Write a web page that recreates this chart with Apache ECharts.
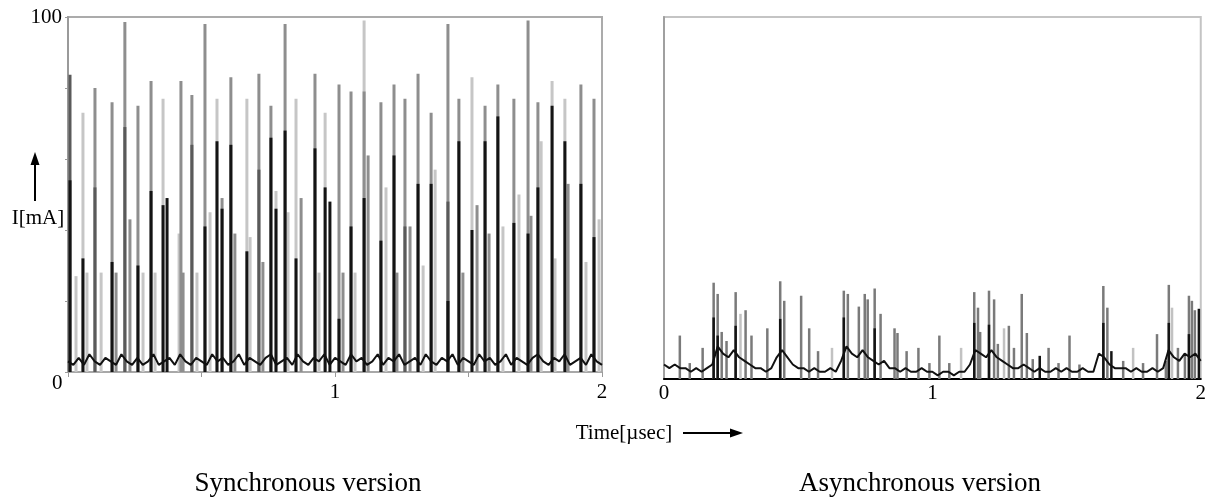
<!DOCTYPE html>
<html><head><meta charset="utf-8">
<script src="https://cdn.jsdelivr.net/npm/echarts@6/dist/echarts.min.js"></script>
<style>html,body{margin:0;padding:0;background:#fff}#c{width:1209px;height:500px}</style>
</head><body><div id="c"></div>
<script>
// ---------- Synchronous version (left) ----------
const syncDarkT = [0.0075, 0.101, 0.213, 0.464, 0.715, 1.262, 1.423];
const syncDarkV = [83.7, 52, 69, 64, 57, 41, 48];

const syncGrayT = [0.101, 0.165, 0.213, 0.262, 0.311, 0.423, 0.464, 0.513, 0.610, 0.715, 0.760, 0.813, 0.925,
  1.015, 1.060, 1.109, 1.172, 1.221, 1.262, 1.311, 1.360, 1.423, 1.464, 1.562, 1.610, 1.670, 1.723, 1.760, 1.921, 1.970,
  0.180, 0.232, 0.431, 0.577, 0.625, 0.730, 0.873, 1.030, 1.124, 1.232, 1.281, 1.479, 1.532, 1.577, 1.734, 1.873];
const syncGrayV = [80, 76, 98.6, 75, 82, 82, 78, 98, 83, 84, 75, 98, 84,
  81, 79, 79, 76, 81, 77, 84, 73, 98, 77, 75, 81, 77, 99, 76, 81, 77,
  28, 43, 28, 49, 39, 31, 49, 28, 61, 28, 41, 28, 47, 39, 44, 53];

const syncLightT = [0.056, 0.356, 0.558, 0.670, 0.854, 0.963, 1.109, 1.513, 1.813, 1.861,
  0.030, 0.071, 0.124, 0.281, 0.326, 0.416, 0.483, 0.532, 0.682, 0.779, 0.824, 0.940, 1.075, 1.191, 1.330, 1.375,
  1.629, 1.689, 1.772, 1.824, 1.940, 1.989];
const syncLightV = [73, 77, 77, 77, 77, 73, 99, 83, 82, 77,
  27, 28, 28, 28, 28, 39, 28, 45, 38, 51, 45, 28, 28, 52, 30, 57,
  41, 50, 65, 32, 31, 43];

const syncBlackT = [0.0075, 0.056, 0.165, 0.262, 0.311, 0.356, 0.371, 0.513, 0.558, 0.577, 0.610, 0.670, 0.760, 0.779,
  0.813, 0.854, 0.925, 0.963, 0.981, 1.015, 1.060, 1.109, 1.172, 1.221, 1.311, 1.360, 1.423, 1.464, 1.513, 1.562,
  1.610, 1.670, 1.723, 1.760, 1.813, 1.861, 1.921, 1.970];
const syncBlackV = [54, 32, 31, 30, 51, 47, 49, 41, 65, 46, 64, 34, 66, 46,
  68, 32, 63, 52, 48, 15, 41, 49, 37, 61, 53, 53, 20, 65, 40, 65,
  72, 42, 39, 52, 75, 65, 53, 38];

const noiseStep = 0.02;
const syncNoise = [3,2,4,2,5,3,2,4,3,2, 5,3,2,4,2,3,5,2,3,4, 2,5,3,2,4,3,2,5,3,4, 2,3,5,2,4,3,2,4,5,2,
  3,4,2,5,3,2,4,3,5,2, 4,3,2,5,3,4,2,3,5,2, 4,3,5,2,3,4,2,5,3,2, 4,3,5,2,4,3,2,5,3,4,
  2,3,5,2,4,3,2,4,5,3, 2,4,3,5,2,3,4,2,5,3,2];

// ---------- Asynchronous version (right) ----------
const asyncGrayT = [0.059, 0.096, 0.144, 0.185, 0.200, 0.215, 0.233, 0.267, 0.304, 0.326, 0.385, 0.433, 0.448, 0.511,
  0.541, 0.574, 0.670, 0.685, 0.726, 0.748, 0.759, 0.785, 0.807, 0.859, 0.870, 0.904, 0.948, 0.989, 1.026, 1.063,
  1.156, 1.170, 1.178, 1.211, 1.230, 1.244, 1.285, 1.304, 1.333, 1.352, 1.374, 1.433, 1.470, 1.511, 1.548,
  1.637, 1.652, 1.711, 1.785, 1.837, 1.870, 1.881, 1.915, 1.941, 1.956, 1.967, 1.978];
const asyncGrayV = [12, 4.4, 8.6, 26.6, 23.5, 13, 10.5, 24, 19, 12, 14, 27, 21.6, 23,
  14, 7.7, 24.4, 23.5, 20, 23.5, 22, 25, 18, 14, 12.7, 7.7, 8.6, 4.4, 12, 4.4,
  24, 19.7, 13, 24.4, 22, 9.7, 14.7, 8.6, 23.5, 12.7, 5.5, 8.6, 4.4, 12, 4,
  25.7, 19.7, 5, 4.4, 12.4, 5, 26, 8.6, 6.4, 23, 21.6, 19];

const asyncLightT = [0.285, 0.626, 1.107, 1.267, 1.748, 1.893];
const asyncLightV = [18, 8.6, 8.6, 14, 8.6, 19.7];

const asyncBlackT = [0.185, 0.200, 0.267, 0.433, 0.670, 0.785, 1.156, 1.211, 1.400, 1.637, 1.667, 1.881, 1.956, 1.993];
const asyncBlackV = [17, 12, 14.7, 16.6, 17, 14, 15.5, 15, 6.4, 15.5, 7.7, 15.5, 12.4, 19.4];

const asyncNoise = [4,3,4,3,3,2,3,2,3, 4, 9,7,6,8,6,5,4, 3,3,2,3, 6,8,6,4,3, 3,2,3,2,2,3,2,
  5,9,7,6,8,6,5,4,5,3, 3,2,3,2,2,3,2,2,1,2,2,1,2,2, 4,8,7,6,8,6,5,4,3,
  3,4,3,2,3,2,2,3,2,3,2,2,3,2,2, 7,6,4,3,3, 3,2,3,2,2,3,2,3, 8,6,5,7,6,7,5];

const leftTickLabels = ['', '1', '2'];
const rightTickLabels = ['0', '1', '2'];

function pairs(T, V) { return T.map((t, i) => [t, V[i]]); }
function noisePairs(N) { return N.map((v, i) => [+(i * noiseStep).toFixed(3), v]); }

const serif = 'Liberation Serif';
const chart = echarts.init(document.getElementById('c'), null, {renderer: 'canvas'});

function barSeries(xi, data, color, width) {
  return {type: 'bar', xAxisIndex: xi, yAxisIndex: xi, data, barWidth: width, barGap: '-100%',
    itemStyle: {color}, silent: true, animation: false};
}

chart.setOption({
  animation: false,
  backgroundColor: '#fff',
  grid: [
    {left: 68, top: 17, width: 534, height: 355, show: true, borderColor: '#ababab', borderWidth: 2, containLabel: false},
    {left: 664, top: 17, width: 542, height: 362, show: true, borderColor: '#c4c4c4', borderWidth: 2, containLabel: false}
  ],
  xAxis: [
    {type: 'value', gridIndex: 0, min: 0, max: 2, interval: 0.5,
      axisLine: {show: true, lineStyle: {color: '#a8a8a8', width: 2}},
      axisTick: {show: true, length: 5, lineStyle: {color: '#9a9a9a', width: 1}},
      splitLine: {show: false},
      axisLabel: {margin: 10, color: '#000', fontFamily: serif, fontSize: 21,
        formatter: v => (Number.isInteger(v) ? leftTickLabels[v] : '')}},
    {type: 'value', gridIndex: 1, min: 0, max: 2, interval: 0.5,
      axisLine: {show: true, lineStyle: {color: '#000', width: 2}},
      axisTick: {show: false}, splitLine: {show: false},
      axisLabel: {margin: 4, color: '#000', fontFamily: serif, fontSize: 21,
        formatter: v => (Number.isInteger(v) ? rightTickLabels[v] : '')}}
  ],
  yAxis: [
    {type: 'value', gridIndex: 0, min: 0, max: 100, interval: 20,
      axisLine: {show: true, lineStyle: {color: '#9a9a9a', width: 2}},
      axisTick: {show: true, length: 3, lineStyle: {color: '#9a9a9a'}},
      splitLine: {show: false},
      axisLabel: {margin: 6, color: '#000', fontFamily: serif, fontSize: 21,
        formatter: v => (v === 100 ? '100' : '')}},
    {type: 'value', gridIndex: 1, min: 0, max: 100, interval: 20,
      axisLine: {show: true, lineStyle: {color: '#a0a0a0', width: 2}},
      axisTick: {show: false}, splitLine: {show: false}, axisLabel: {show: false}}
  ],
  series: [
    barSeries(0, pairs(syncLightT, syncLightV), '#c6c6c6', 3),
    barSeries(0, pairs(syncGrayT, syncGrayV), '#8e8e8e', 3),
    barSeries(0, pairs(syncDarkT, syncDarkV), '#5a5a5a', 3),
    barSeries(0, pairs(syncBlackT, syncBlackV), '#141414', 3),
    {type: 'line', xAxisIndex: 0, yAxisIndex: 0, data: noisePairs(syncNoise), showSymbol: false,
      lineStyle: {color: '#111', width: 2}, silent: true},
    barSeries(1, pairs(asyncLightT, asyncLightV), '#c2c2c2', 2.5),
    barSeries(1, pairs(asyncGrayT, asyncGrayV), '#7a7a7a', 2.5),
    barSeries(1, pairs(asyncBlackT, asyncBlackV), '#141414', 2.5),
    {type: 'line', xAxisIndex: 1, yAxisIndex: 1, data: noisePairs(asyncNoise), showSymbol: false,
      lineStyle: {color: '#111', width: 2}, silent: true}
  ],
  graphic: [
    {type: 'text', left: 52, top: 373, style: {text: '0', font: '21px "Liberation Serif"', fill: '#000'}},
    {type: 'text', x: 38, y: 218, style: {text: 'I[mA]', font: '21px "Liberation Serif"', fill: '#000', align: 'center', verticalAlign: 'middle'}},
    {type: 'line', shape: {x1: 35, y1: 201, x2: 35, y2: 162}, style: {stroke: '#000', lineWidth: 2}},
    {type: 'polygon', shape: {points: [[30.5, 165], [39.5, 165], [35, 152]]}, style: {fill: '#000'}},
    {type: 'text', x: 624, y: 433, style: {text: 'Time[µsec]', font: '21px "Liberation Serif"', fill: '#000', align: 'center', verticalAlign: 'middle'}},
    {type: 'line', shape: {x1: 683, y1: 433, x2: 732, y2: 433}, style: {stroke: '#000', lineWidth: 2}},
    {type: 'polygon', shape: {points: [[730, 428.5], [730, 437.5], [743, 433]]}, style: {fill: '#000'}},
    {type: 'text', x: 308, y: 484, style: {text: 'Synchronous version', font: '27px "Liberation Serif"', fill: '#000', align: 'center', verticalAlign: 'middle'}},
    {type: 'text', x: 920, y: 484, style: {text: 'Asynchronous version', font: '27px "Liberation Serif"', fill: '#000', align: 'center', verticalAlign: 'middle'}}
  ]
});
</script>
</body></html>
